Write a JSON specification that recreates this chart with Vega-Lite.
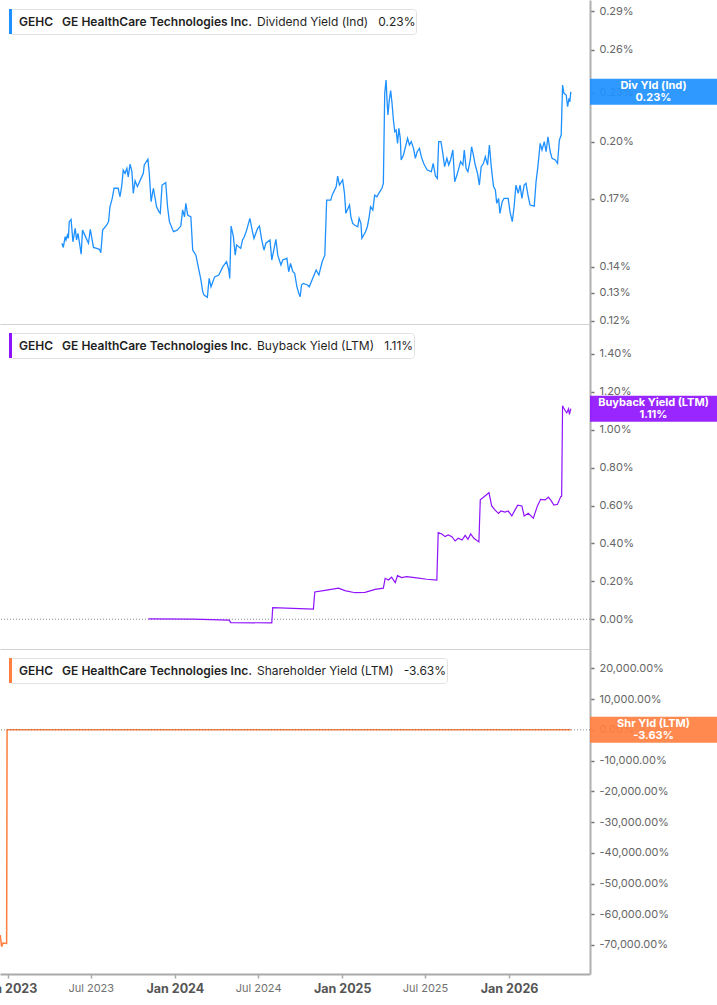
{
  "$schema": "https://vega.github.io/schema/vega-lite/v6.json",
  "padding": {"left": -21, "top": 0, "right": 0, "bottom": 0},
  "bounds": "flush",
  "spacing": 0,
  "resolve": {"scale": {"color": "independent", "y": "independent"}, "legend": {"color": "independent"}},
  "datasets": {
    "div": [
      {"date": "2023-04-29", "v": 0.1497}, {"date": "2023-05-02", "v": 0.1479}, {"date": "2023-05-06", "v": 0.1525},
      {"date": "2023-05-08", "v": 0.1511}, {"date": "2023-05-11", "v": 0.1532}, {"date": "2023-05-13", "v": 0.1518},
      {"date": "2023-05-15", "v": 0.1592}, {"date": "2023-05-19", "v": 0.1602}, {"date": "2023-05-23", "v": 0.1503},
      {"date": "2023-05-28", "v": 0.1562}, {"date": "2023-05-31", "v": 0.1511}, {"date": "2023-06-03", "v": 0.1540},
      {"date": "2023-06-06", "v": 0.1503}, {"date": "2023-06-10", "v": 0.1451}, {"date": "2023-06-13", "v": 0.1554},
      {"date": "2023-06-18", "v": 0.1532}, {"date": "2023-06-26", "v": 0.1497}, {"date": "2023-06-30", "v": 0.1557},
      {"date": "2023-07-04", "v": 0.1511}, {"date": "2023-07-07", "v": 0.1479}, {"date": "2023-07-14", "v": 0.1475},
      {"date": "2023-07-20", "v": 0.1471}, {"date": "2023-07-23", "v": 0.1457}, {"date": "2023-07-27", "v": 0.1554},
      {"date": "2023-08-05", "v": 0.1577}, {"date": "2023-08-09", "v": 0.1592}, {"date": "2023-08-12", "v": 0.1661},
      {"date": "2023-08-17", "v": 0.1701}, {"date": "2023-08-21", "v": 0.1751}, {"date": "2023-08-30", "v": 0.1751},
      {"date": "2023-09-03", "v": 0.1709}, {"date": "2023-09-07", "v": 0.1767}, {"date": "2023-09-10", "v": 0.1844},
      {"date": "2023-09-14", "v": 0.1827}, {"date": "2023-09-18", "v": 0.1853}, {"date": "2023-09-21", "v": 0.1809},
      {"date": "2023-09-25", "v": 0.1876}, {"date": "2023-09-29", "v": 0.1836}, {"date": "2023-10-02", "v": 0.1726},
      {"date": "2023-10-06", "v": 0.1789}, {"date": "2023-10-11", "v": 0.1759}, {"date": "2023-10-19", "v": 0.1801},
      {"date": "2023-10-24", "v": 0.1827}, {"date": "2023-10-26", "v": 0.1871}, {"date": "2023-11-03", "v": 0.1902},
      {"date": "2023-11-06", "v": 0.1827}, {"date": "2023-11-10", "v": 0.1685}, {"date": "2023-11-15", "v": 0.1751},
      {"date": "2023-11-22", "v": 0.1661}, {"date": "2023-11-27", "v": 0.1638}, {"date": "2023-11-30", "v": 0.1630},
      {"date": "2023-12-04", "v": 0.1767}, {"date": "2023-12-12", "v": 0.1779}, {"date": "2023-12-16", "v": 0.1661},
      {"date": "2023-12-20", "v": 0.1592}, {"date": "2023-12-29", "v": 0.1547}, {"date": "2024-01-06", "v": 0.1554},
      {"date": "2024-01-14", "v": 0.1572}, {"date": "2024-01-18", "v": 0.1646}, {"date": "2024-01-22", "v": 0.1614},
      {"date": "2024-01-25", "v": 0.1677}, {"date": "2024-01-29", "v": 0.1622}, {"date": "2024-02-05", "v": 0.1614},
      {"date": "2024-02-09", "v": 0.1468}, {"date": "2024-02-16", "v": 0.1447}, {"date": "2024-02-21", "v": 0.1400},
      {"date": "2024-02-27", "v": 0.1348}, {"date": "2024-03-02", "v": 0.1303}, {"date": "2024-03-05", "v": 0.1291},
      {"date": "2024-03-12", "v": 0.1283}, {"date": "2024-03-16", "v": 0.1354}, {"date": "2024-03-20", "v": 0.1322},
      {"date": "2024-03-28", "v": 0.1360}, {"date": "2024-04-06", "v": 0.1367}, {"date": "2024-04-15", "v": 0.1400},
      {"date": "2024-04-23", "v": 0.1420}, {"date": "2024-04-28", "v": 0.1387}, {"date": "2024-04-30", "v": 0.1354},
      {"date": "2024-05-03", "v": 0.1572}, {"date": "2024-05-08", "v": 0.1525}, {"date": "2024-05-12", "v": 0.1447},
      {"date": "2024-05-15", "v": 0.1489}, {"date": "2024-05-24", "v": 0.1475}, {"date": "2024-05-28", "v": 0.1511},
      {"date": "2024-06-01", "v": 0.1525}, {"date": "2024-06-06", "v": 0.1554}, {"date": "2024-06-13", "v": 0.1607},
      {"date": "2024-06-18", "v": 0.1554}, {"date": "2024-06-22", "v": 0.1518}, {"date": "2024-06-30", "v": 0.1562},
      {"date": "2024-07-04", "v": 0.1572}, {"date": "2024-07-09", "v": 0.1511}, {"date": "2024-07-14", "v": 0.1468},
      {"date": "2024-07-18", "v": 0.1497}, {"date": "2024-07-27", "v": 0.1511}, {"date": "2024-07-31", "v": 0.1427},
      {"date": "2024-08-09", "v": 0.1514}, {"date": "2024-08-13", "v": 0.1447}, {"date": "2024-08-20", "v": 0.1407},
      {"date": "2024-08-24", "v": 0.1427}, {"date": "2024-09-02", "v": 0.1434}, {"date": "2024-09-06", "v": 0.1380},
      {"date": "2024-09-10", "v": 0.1413}, {"date": "2024-09-15", "v": 0.1380}, {"date": "2024-09-19", "v": 0.1374},
      {"date": "2024-09-24", "v": 0.1322}, {"date": "2024-09-28", "v": 0.1298}, {"date": "2024-10-01", "v": 0.1285},
      {"date": "2024-10-04", "v": 0.1329}, {"date": "2024-10-08", "v": 0.1335}, {"date": "2024-10-17", "v": 0.1329},
      {"date": "2024-10-21", "v": 0.1322}, {"date": "2024-10-27", "v": 0.1348}, {"date": "2024-11-05", "v": 0.1387},
      {"date": "2024-11-11", "v": 0.1367}, {"date": "2024-11-18", "v": 0.1419}, {"date": "2024-11-24", "v": 0.1447},
      {"date": "2024-11-28", "v": 0.1693}, {"date": "2024-12-07", "v": 0.1693}, {"date": "2024-12-10", "v": 0.1717},
      {"date": "2024-12-19", "v": 0.1759}, {"date": "2024-12-22", "v": 0.1813}, {"date": "2024-12-26", "v": 0.1767},
      {"date": "2025-01-02", "v": 0.1793}, {"date": "2025-01-06", "v": 0.1726}, {"date": "2025-01-09", "v": 0.1630},
      {"date": "2025-01-17", "v": 0.1669}, {"date": "2025-01-20", "v": 0.1614}, {"date": "2025-01-24", "v": 0.1584},
      {"date": "2025-01-28", "v": 0.1577}, {"date": "2025-02-04", "v": 0.1569}, {"date": "2025-02-07", "v": 0.1607},
      {"date": "2025-02-11", "v": 0.1584}, {"date": "2025-02-13", "v": 0.1518}, {"date": "2025-02-21", "v": 0.1547},
      {"date": "2025-02-25", "v": 0.1569}, {"date": "2025-03-01", "v": 0.1614}, {"date": "2025-03-04", "v": 0.1661},
      {"date": "2025-03-09", "v": 0.1646}, {"date": "2025-03-13", "v": 0.1717}, {"date": "2025-03-18", "v": 0.1709},
      {"date": "2025-03-22", "v": 0.1726}, {"date": "2025-03-29", "v": 0.1751}, {"date": "2025-04-01", "v": 0.1776},
      {"date": "2025-04-04", "v": 0.2295}, {"date": "2025-04-07", "v": 0.2384}, {"date": "2025-04-09", "v": 0.2252},
      {"date": "2025-04-11", "v": 0.2158}, {"date": "2025-04-14", "v": 0.2252}, {"date": "2025-04-17", "v": 0.2313},
      {"date": "2025-04-20", "v": 0.2231}, {"date": "2025-04-23", "v": 0.2127}, {"date": "2025-04-26", "v": 0.2057},
      {"date": "2025-04-29", "v": 0.2067}, {"date": "2025-05-02", "v": 0.1990}, {"date": "2025-05-05", "v": 0.2077},
      {"date": "2025-05-08", "v": 0.2019}, {"date": "2025-05-10", "v": 0.1898}, {"date": "2025-05-15", "v": 0.1925},
      {"date": "2025-05-24", "v": 0.2019}, {"date": "2025-05-28", "v": 0.1981}, {"date": "2025-06-01", "v": 0.2000},
      {"date": "2025-06-06", "v": 0.1962}, {"date": "2025-06-10", "v": 0.1907}, {"date": "2025-06-14", "v": 0.1943},
      {"date": "2025-06-19", "v": 0.1962}, {"date": "2025-06-23", "v": 0.1916}, {"date": "2025-06-28", "v": 0.1880},
      {"date": "2025-07-02", "v": 0.1862}, {"date": "2025-07-06", "v": 0.1844}, {"date": "2025-07-15", "v": 0.1836},
      {"date": "2025-07-19", "v": 0.1880}, {"date": "2025-07-24", "v": 0.1813}, {"date": "2025-07-28", "v": 0.1801},
      {"date": "2025-07-31", "v": 0.2000}, {"date": "2025-08-05", "v": 0.2000}, {"date": "2025-08-09", "v": 0.1935},
      {"date": "2025-08-13", "v": 0.1862}, {"date": "2025-08-18", "v": 0.1907}, {"date": "2025-08-22", "v": 0.1871},
      {"date": "2025-08-26", "v": 0.1898}, {"date": "2025-08-31", "v": 0.1953}, {"date": "2025-09-04", "v": 0.1784},
      {"date": "2025-09-09", "v": 0.1818}, {"date": "2025-09-17", "v": 0.1889}, {"date": "2025-09-22", "v": 0.1871},
      {"date": "2025-09-25", "v": 0.1953}, {"date": "2025-09-29", "v": 0.1853}, {"date": "2025-10-03", "v": 0.1836},
      {"date": "2025-10-08", "v": 0.1898}, {"date": "2025-10-11", "v": 0.1971}, {"date": "2025-10-15", "v": 0.1925},
      {"date": "2025-10-19", "v": 0.1871}, {"date": "2025-10-24", "v": 0.1827}, {"date": "2025-10-28", "v": 0.1767},
      {"date": "2025-11-01", "v": 0.1862}, {"date": "2025-11-06", "v": 0.1880}, {"date": "2025-11-10", "v": 0.1916},
      {"date": "2025-11-15", "v": 0.1871}, {"date": "2025-11-19", "v": 0.1981}, {"date": "2025-11-23", "v": 0.1862},
      {"date": "2025-11-28", "v": 0.1759}, {"date": "2025-12-02", "v": 0.1742}, {"date": "2025-12-05", "v": 0.1677},
      {"date": "2025-12-09", "v": 0.1701}, {"date": "2025-12-12", "v": 0.1630}, {"date": "2025-12-17", "v": 0.1685},
      {"date": "2025-12-21", "v": 0.1701}, {"date": "2025-12-30", "v": 0.1701}, {"date": "2026-01-03", "v": 0.1638},
      {"date": "2026-01-08", "v": 0.1592}, {"date": "2026-01-12", "v": 0.1661}, {"date": "2026-01-16", "v": 0.1767},
      {"date": "2026-01-21", "v": 0.1726}, {"date": "2026-01-25", "v": 0.1767}, {"date": "2026-01-29", "v": 0.1701},
      {"date": "2026-02-03", "v": 0.1767}, {"date": "2026-02-07", "v": 0.1776}, {"date": "2026-02-12", "v": 0.1709},
      {"date": "2026-02-16", "v": 0.1669}, {"date": "2026-02-25", "v": 0.1664}, {"date": "2026-03-01", "v": 0.1784},
      {"date": "2026-03-05", "v": 0.1862}, {"date": "2026-03-10", "v": 0.1990}, {"date": "2026-03-14", "v": 0.1953},
      {"date": "2026-03-19", "v": 0.2000}, {"date": "2026-03-23", "v": 0.1943}, {"date": "2026-03-27", "v": 0.2028},
      {"date": "2026-04-01", "v": 0.1943}, {"date": "2026-04-05", "v": 0.1907}, {"date": "2026-04-12", "v": 0.1898},
      {"date": "2026-04-17", "v": 0.1880}, {"date": "2026-04-21", "v": 0.2009}, {"date": "2026-04-25", "v": 0.2038},
      {"date": "2026-04-28", "v": 0.2350}, {"date": "2026-05-01", "v": 0.2295}, {"date": "2026-05-06", "v": 0.2284},
      {"date": "2026-05-09", "v": 0.2209}, {"date": "2026-05-12", "v": 0.2263}, {"date": "2026-05-14", "v": 0.2241},
      {"date": "2026-05-16", "v": 0.2306}
    ],
    "buy": [
      {"date": "2023-11-04", "v": 0.002}, {"date": "2024-02-07", "v": 0.001}, {"date": "2024-04-29", "v": -0.005},
      {"date": "2024-05-02", "v": -0.018}, {"date": "2024-07-31", "v": -0.019}, {"date": "2024-08-02", "v": 0.061},
      {"date": "2024-10-30", "v": 0.054}, {"date": "2024-11-02", "v": 0.144}, {"date": "2024-11-21", "v": 0.151},
      {"date": "2024-12-24", "v": 0.164}, {"date": "2025-01-07", "v": 0.151}, {"date": "2025-01-29", "v": 0.140},
      {"date": "2025-02-20", "v": 0.142}, {"date": "2025-03-14", "v": 0.158}, {"date": "2025-04-01", "v": 0.164},
      {"date": "2025-04-05", "v": 0.216}, {"date": "2025-04-12", "v": 0.207}, {"date": "2025-04-19", "v": 0.222},
      {"date": "2025-04-27", "v": 0.193}, {"date": "2025-05-02", "v": 0.230}, {"date": "2025-05-11", "v": 0.220},
      {"date": "2025-05-22", "v": 0.225}, {"date": "2025-06-13", "v": 0.218}, {"date": "2025-07-05", "v": 0.211},
      {"date": "2025-07-27", "v": 0.206}, {"date": "2025-07-30", "v": 0.457}, {"date": "2025-08-07", "v": 0.450},
      {"date": "2025-08-14", "v": 0.436}, {"date": "2025-08-21", "v": 0.445}, {"date": "2025-08-29", "v": 0.436},
      {"date": "2025-09-05", "v": 0.413}, {"date": "2025-09-12", "v": 0.427}, {"date": "2025-09-20", "v": 0.418},
      {"date": "2025-09-27", "v": 0.443}, {"date": "2025-10-03", "v": 0.422}, {"date": "2025-10-09", "v": 0.450},
      {"date": "2025-10-16", "v": 0.427}, {"date": "2025-10-27", "v": 0.408}, {"date": "2025-10-30", "v": 0.630},
      {"date": "2025-11-06", "v": 0.644}, {"date": "2025-11-12", "v": 0.656}, {"date": "2025-11-18", "v": 0.668},
      {"date": "2025-11-24", "v": 0.598}, {"date": "2025-12-01", "v": 0.577}, {"date": "2025-12-09", "v": 0.559},
      {"date": "2025-12-14", "v": 0.571}, {"date": "2025-12-23", "v": 0.565}, {"date": "2025-12-30", "v": 0.571},
      {"date": "2026-01-07", "v": 0.545}, {"date": "2026-01-14", "v": 0.577}, {"date": "2026-01-20", "v": 0.602},
      {"date": "2026-01-29", "v": 0.598}, {"date": "2026-02-03", "v": 0.545}, {"date": "2026-02-12", "v": 0.559},
      {"date": "2026-02-23", "v": 0.533}, {"date": "2026-03-04", "v": 0.598}, {"date": "2026-03-11", "v": 0.633},
      {"date": "2026-03-21", "v": 0.630}, {"date": "2026-03-28", "v": 0.644}, {"date": "2026-04-03", "v": 0.626},
      {"date": "2026-04-09", "v": 0.603}, {"date": "2026-04-17", "v": 0.607}, {"date": "2026-04-24", "v": 0.647},
      {"date": "2026-04-26", "v": 0.650}, {"date": "2026-04-28", "v": 1.126}, {"date": "2026-04-30", "v": 1.116},
      {"date": "2026-05-04", "v": 1.100}, {"date": "2026-05-07", "v": 1.089}, {"date": "2026-05-11", "v": 1.110},
      {"date": "2026-05-13", "v": 1.081}, {"date": "2026-05-16", "v": 1.111}
    ],
    "shr": [
      {"date": "2022-12-15", "v": -66750}, {"date": "2022-12-18", "v": -70560}, {"date": "2022-12-21", "v": -69360},
      {"date": "2022-12-29", "v": -69520}, {"date": "2022-12-30", "v": -3.1}, {"date": "2023-07-03", "v": -3.4},
      {"date": "2024-01-02", "v": -3.2}, {"date": "2024-07-01", "v": -2.8}, {"date": "2025-01-02", "v": -3.3},
      {"date": "2025-07-01", "v": -3.9}, {"date": "2026-01-02", "v": -3.5}, {"date": "2026-05-16", "v": -3.63}
    ],
    "zero": [{"v": 0}],
    "divLast": [{"v": 0.2306, "tag": "Div Yld (Ind)\n0.23%"}],
    "buyLast": [{"v": 1.111, "tag": "Buyback Yield (LTM)\n1.11%"}],
    "shrLast": [{"v": -3.63, "tag": "Shr Yld (LTM)\n-3.63%"}]
  },
  "vconcat": [
    {
      "width": 590,
      "height": 324,
      "layer": [
        {
          "data": {"name": "div"},
          "mark": {"type": "line", "strokeWidth": 1.3},
          "encoding": {
            "x": {
              "field": "date", "type": "temporal",
              "scale": {"type": "utc", "domain": [{"year": 2022, "month": 12, "date": 14, "hours": 12, "utc": true}, {"year": 2026, "month": 6, "date": 27, "utc": true}]},
              "axis": {"title": null, "labels": false, "ticks": false, "domainColor": "#d2d2d2", "domainWidth": 1}
            },
            "y": {
              "field": "v", "type": "quantitative",
              "scale": {"type": "log", "domain": [0.1189, 0.2995], "nice": false},
              "axis": {"orient": "right", "title": null, "labelOverlap": false, "tickCount": 20, "values": [0.12, 0.13, 0.14, 0.17, 0.2, 0.23, 0.26, 0.29],
                "labelExpr": "format(datum.value, '.2f') + '%'"}
            },
            "color": {
              "datum": "GEHC\u00a0\u00a0\u00a0GE HealthCare Technologies Inc.",
              "scale": {"range": ["#1e90ff"]},
              "legend": {
                "title": "Dividend Yield (Ind)\u00a0\u00a0\u00a00.23%\u00a0",
                "encode": {
                  "title": {"update": {"angle": {"value": 0}, "align": {"value": "left"}, "baseline": {"value": "middle"}}},
                  "symbols": {"update": {"fill": {"value": "#1e90ff"}, "strokeWidth": {"value": 0}}}
                }
              }
            }
          }
        },
        {
          "data": {"name": "divLast"},
          "mark": {"type": "point", "shape": "M0,-0.205H2V0.205H0Z", "size": 16129, "filled": true, "color": "#1e90ff", "opacity": 0.92, "strokeWidth": 0},
          "encoding": {"x": {"value": "width"}, "y": {"field": "v", "type": "quantitative"}}
        },
        {
          "data": {"name": "divLast"},
          "mark": {"type": "text", "color": "#ffffff", "fontWeight": "bold", "fontSize": 11, "lineBreak": "\n", "lineHeight": 12, "dx": 63.5, "dy": -6, "align": "center", "baseline": "middle"},
          "encoding": {"x": {"value": "width"}, "y": {"field": "v", "type": "quantitative"}, "text": {"field": "tag"}}
        }
      ]
    },
    {
      "width": 590,
      "height": 325,
      "layer": [
        {
          "data": {"name": "zero"},
          "mark": {"type": "rule", "color": "#888888", "strokeDash": [1, 2], "strokeWidth": 1},
          "encoding": {"y": {"field": "v", "type": "quantitative"}}
        },
        {
          "data": {"name": "buy"},
          "mark": {"type": "line", "strokeWidth": 1.2},
          "encoding": {
            "x": {
              "field": "date", "type": "temporal",
              "scale": {"type": "utc", "domain": [{"year": 2022, "month": 12, "date": 14, "hours": 12, "utc": true}, {"year": 2026, "month": 6, "date": 27, "utc": true}]},
              "axis": {"title": null, "labels": false, "ticks": false, "domainColor": "#d2d2d2", "domainWidth": 1}
            },
            "y": {
              "field": "v", "type": "quantitative",
              "scale": {"domain": [-0.157, 1.558], "nice": false, "zero": false},
              "axis": {"orient": "right", "title": null, "labelOverlap": false, "tickCount": 20, "values": [0, 0.2, 0.4, 0.6, 0.8, 1.0, 1.2, 1.4],
                "labelExpr": "format(datum.value, '.2f') + '%'"}
            },
            "color": {
              "datum": "GEHC\u00a0\u00a0\u00a0GE HealthCare Technologies Inc.",
              "scale": {"range": ["#9013fe"]},
              "legend": {
                "title": "Buyback Yield (LTM)\u00a0\u00a0\u00a01.11%\u00a0",
                "encode": {
                  "title": {"update": {"angle": {"value": 0}, "align": {"value": "left"}, "baseline": {"value": "middle"}}},
                  "symbols": {"update": {"fill": {"value": "#9013fe"}, "strokeWidth": {"value": 0}}}
                }
              }
            }
          }
        },
        {
          "data": {"name": "buyLast"},
          "mark": {"type": "point", "shape": "M0,-0.205H2V0.205H0Z", "size": 16129, "filled": true, "color": "#9013fe", "opacity": 0.92, "strokeWidth": 0},
          "encoding": {"x": {"value": "width"}, "y": {"field": "v", "type": "quantitative"}}
        },
        {
          "data": {"name": "buyLast"},
          "mark": {"type": "text", "color": "#ffffff", "fontWeight": "bold", "fontSize": 11, "lineBreak": "\n", "lineHeight": 12, "dx": 63.5, "dy": -6, "align": "center", "baseline": "middle"},
          "encoding": {"x": {"value": "width"}, "y": {"field": "v", "type": "quantitative"}, "text": {"field": "tag"}}
        }
      ]
    },
    {
      "width": 590,
      "height": 325,
      "layer": [
        {
          "data": {"name": "shr"},
          "mark": {"type": "line", "strokeWidth": 1.5},
          "encoding": {
            "x": {
              "field": "date", "type": "temporal",
              "scale": {"type": "utc", "domain": [{"year": 2022, "month": 12, "date": 14, "hours": 12, "utc": true}, {"year": 2026, "month": 6, "date": 27, "utc": true}]},
              "axis": {
                "title": null,
                "tickCount": 20,
                "values": [
                  {"year": 2023, "month": 1, "date": 1, "utc": true}, {"year": 2023, "month": 7, "date": 1, "utc": true},
                  {"year": 2024, "month": 1, "date": 1, "utc": true}, {"year": 2024, "month": 7, "date": 1, "utc": true},
                  {"year": 2025, "month": 1, "date": 1, "utc": true}, {"year": 2025, "month": 7, "date": 1, "utc": true},
                  {"year": 2026, "month": 1, "date": 1, "utc": true}
                ],
                "labelExpr": "utcFormat(datum.value, '%b %Y')",
                "labelFontWeight": {"condition": {"test": "utcmonth(datum.value) == 0", "value": "bold"}, "value": "normal"},
                "labelFontSize": {"condition": {"test": "utcmonth(datum.value) == 0", "value": 12.5}, "value": 11},
                "labelColor": {"condition": {"test": "utcmonth(datum.value) == 0", "value": "#555555"}, "value": "#707070"},
                "labelOverlap": false,
                "labelPadding": 4,
                "tickSize": 4,
                "tickColor": "#aaaaaa",
                "tickWidth": 1.5,
                "domainColor": "#aaaaaa",
                "domainWidth": 2
              }
            },
            "y": {
              "field": "v", "type": "quantitative",
              "scale": {"domain": [-79440, 26285], "nice": false, "zero": false},
              "axis": {"orient": "right", "title": null, "labelOverlap": false, "tickCount": 20,
                "values": [-70000, -60000, -50000, -40000, -30000, -20000, -10000, 0, 10000, 20000],
                "labelExpr": "replace(format(datum.value, ',.2f'), '\u2212', '-') + '%'"}
            },
            "color": {
              "datum": "GEHC\u00a0\u00a0\u00a0GE HealthCare Technologies Inc.",
              "scale": {"range": ["#ff7f3f"]},
              "legend": {
                "title": "Shareholder Yield (LTM)\u00a0\u00a0\u00a0-3.63%\u00a0",
                "encode": {
                  "title": {"update": {"angle": {"value": 0}, "align": {"value": "left"}, "baseline": {"value": "middle"}}},
                  "symbols": {"update": {"fill": {"value": "#ff7f3f"}, "strokeWidth": {"value": 0}}}
                }
              }
            }
          }
        },
        {
          "data": {"name": "zero"},
          "mark": {"type": "rule", "color": "#777777", "strokeDash": [1, 2], "strokeWidth": 1, "opacity": 0.8},
          "encoding": {"y": {"field": "v", "type": "quantitative"}}
        },
        {
          "data": {"name": "shrLast"},
          "mark": {"type": "point", "shape": "M0,-0.205H2V0.205H0Z", "size": 16129, "filled": true, "color": "#ff7f3f", "opacity": 0.92, "strokeWidth": 0},
          "encoding": {"x": {"value": "width"}, "y": {"field": "v", "type": "quantitative"}}
        },
        {
          "data": {"name": "shrLast"},
          "mark": {"type": "text", "color": "#ffffff", "fontWeight": "bold", "fontSize": 11, "lineBreak": "\n", "lineHeight": 12, "dx": 63.5, "dy": -6, "align": "center", "baseline": "middle"},
          "encoding": {"x": {"value": "width"}, "y": {"field": "v", "type": "quantitative"}, "text": {"field": "tag"}}
        }
      ]
    }
  ],
  "config": {
    "font": "Inter",
    "view": {"stroke": null},
    "axis": {
      "grid": false,
      "labelFont": "Inter",
      "labelFontSize": 11,
      "labelColor": "#666666",
      "labelPadding": 5,
      "labelOverlap": false,
      "tickSize": 4,
      "tickColor": "#777777",
      "tickWidth": 1.5,
      "domainColor": "#b0b0b0",
      "domainWidth": 2
    },
    "legend": {
      "orient": "top-left",
      "offset": 9,
      "padding": 0,
      "fillColor": "#ffffff",
      "strokeColor": "#e2e2e2",
      "cornerRadius": 3,
      "symbolType": "M-1,-1H-0.76V1H-1Z",
      "symbolSize": 625,
      "symbolStrokeWidth": 0,
      "labelFont": "Inter",
      "labelFontSize": 12,
      "labelFontWeight": 600,
      "labelColor": "#1f1f1f",
      "labelOffset": -15,
      "labelLimit": 600,
      "titleFont": "Inter",
      "titleOrient": "right",
      "titleAnchor": "middle",
      "titleFontSize": 12,
      "titleFontWeight": "normal",
      "titleColor": "#1f1f1f",
      "titlePadding": 5,
      "titleLimit": 600
    }
  }
}
